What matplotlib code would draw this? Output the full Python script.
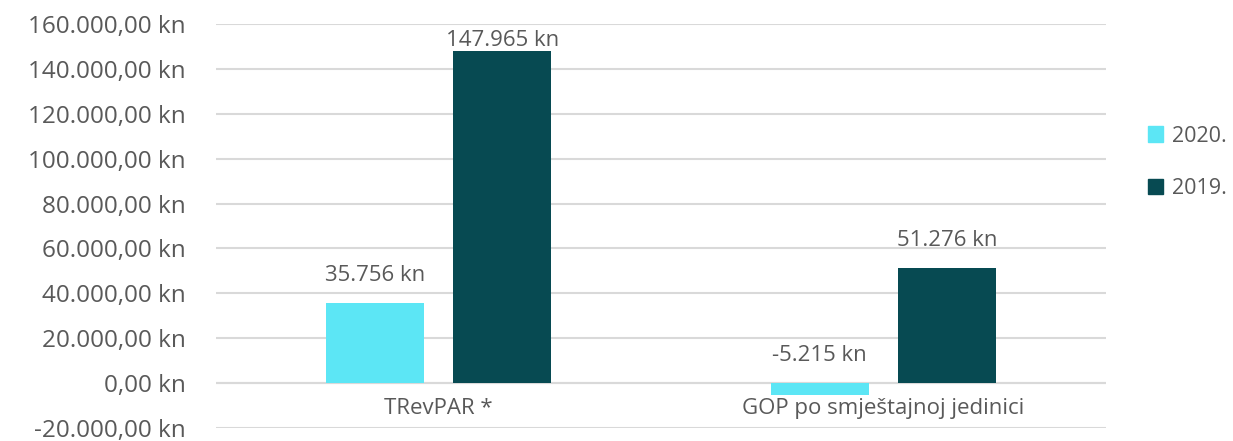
import numpy as np
import matplotlib.pyplot as plt
from matplotlib.ticker import FuncFormatter
from matplotlib.patches import Patch

# Podaci
categories = ['TRevPAR *', 'GOP po smještajnoj jedinici']
series = ['2020.', '2019.']
values_2020 = [35756, -5215]
values_2019 = [147965, 51276]
colors = ['#5CE6F5', '#074A52']

plt.rcParams['font.family'] = ['Open Sans', 'DejaVu Sans']
text_color = '#595959'


def hr_fmt(v, pos=None, dec=2):
    s = f'{abs(v):,.{dec}f}'.replace(',', 'X').replace('.', ',').replace('X', '.')
    return ('-' if v < 0 else '') + s + ' kn'


fig = plt.figure(figsize=(12.33, 4.41), dpi=100)
ax = fig.add_axes([0.1752, 0.0295, 0.897 - 0.1752, 0.9456 - 0.0295])

x = np.arange(len(categories))
w = 0.22
off = 0.143
for i, (vals, name) in enumerate(zip([values_2020, values_2019], series)):
    pos = x + (i * 2 - 1) * off
    ax.bar(pos, vals, width=w, color=colors[i], label=name, zorder=3)
    for px, v in zip(pos, vals):
        y = max(v, 0)
        # Excel pomiče oznaku koja bi izašla izvan područja grafa
        dy = 12 if y < 130000 else 0
        ax.annotate(hr_fmt(v, dec=0), (px, y), xytext=(0, dy),
                    textcoords='offset points', ha='center', va='bottom',
                    fontsize=16, color=text_color)

ax.set_xlim(-0.5, 1.5)
ax.set_ylim(-20000, 160000)
ax.set_yticks(np.arange(-20000, 160001, 20000))
ax.yaxis.set_major_formatter(FuncFormatter(hr_fmt))
ax.grid(axis='y', color='#D9D9D9', linewidth=1.5, zorder=0)
ax.axhline(0, color='#D9D9D9', linewidth=1.5, zorder=2)

for s in ax.spines.values():
    s.set_visible(False)
ax.tick_params(axis='y', length=0, pad=22, labelsize=17.5, labelcolor=text_color)
ax.set_xticks(x)
ax.set_xticklabels(categories)
ax.spines['bottom'].set_position(('data', 0))
ax.tick_params(axis='x', length=0, pad=11, labelsize=16, labelcolor=text_color)

handles = [Patch(color=c) for c in colors]
ax.legend(handles, series, loc='center left', bbox_to_anchor=(1.047, 0.658),
          frameon=False, fontsize=15.5, labelcolor=text_color, borderaxespad=0,
          borderpad=0, handlelength=0.7, handleheight=0.7, handletextpad=0.4,
          labelspacing=1.45)

fig.savefig('out.png', dpi=100)
